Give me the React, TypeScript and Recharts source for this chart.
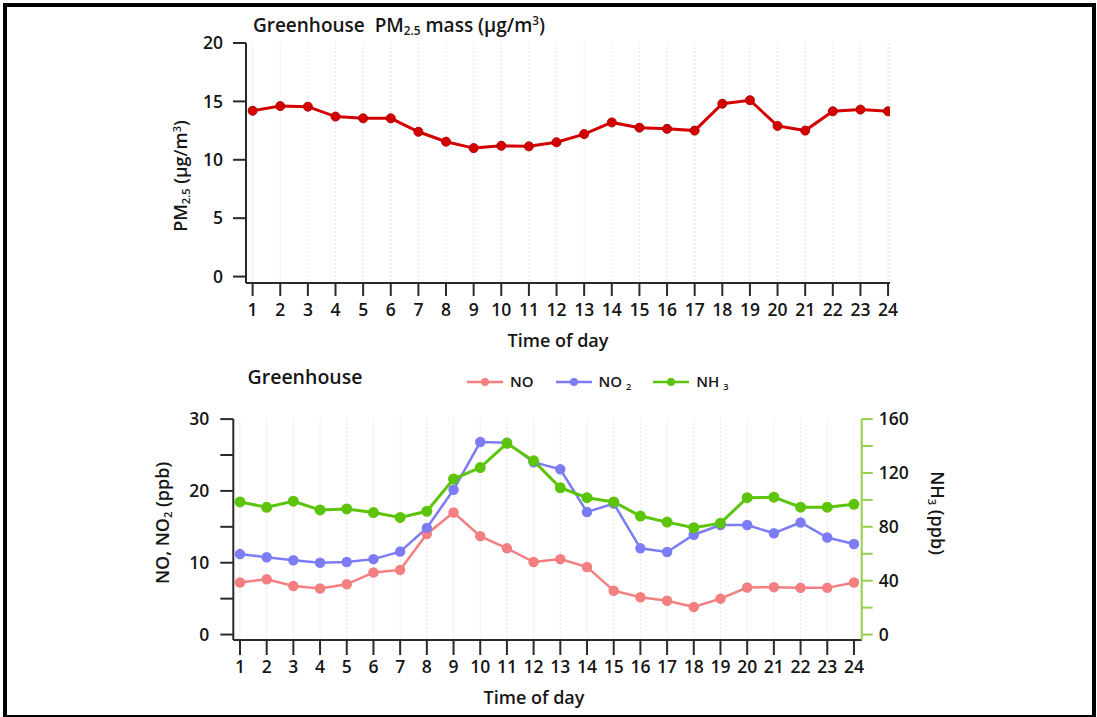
import { LineChart, Line, XAxis, YAxis, CartesianGrid, Legend } from 'recharts';
import type { CSSProperties, ReactNode } from 'react';

const hours = [1, 2, 3, 4, 5, 6, 7, 8, 9, 10, 11, 12, 13, 14, 15, 16, 17, 18, 19, 20, 21, 22, 23, 24];
const pm25 = [14.2, 14.6, 14.55, 13.7, 13.55, 13.55, 12.4, 11.55, 11.0, 11.2, 11.15, 11.5, 12.2, 13.2, 12.75, 12.65, 12.5, 14.8, 15.1, 12.9, 12.5, 14.15, 14.3, 14.15];
const noPpb = [7.25, 7.7, 6.75, 6.4, 7.0, 8.65, 9.0, 14.0, 17.0, 13.7, 12.0, 10.1, 10.5, 9.4, 6.1, 5.2, 4.7, 3.85, 5.0, 6.55, 6.6, 6.5, 6.5, 7.25];
const no2Ppb = [11.2, 10.75, 10.35, 10.0, 10.1, 10.5, 11.55, 14.85, 20.15, 26.8, 26.7, 24.0, 23.0, 17.05, 18.25, 12.0, 11.5, 13.9, 15.25, 15.25, 14.1, 15.6, 13.5, 12.6];
const nh3Ppb = [98.5, 94.5, 99.0, 92.5, 93.3, 90.6, 87.0, 91.5, 115.5, 124.0, 142.0, 129.0, 109.0, 101.6, 98.5, 88.0, 83.5, 79.3, 82.7, 101.6, 102.0, 94.6, 94.6, 96.7];
const pmTicks = [0, 5, 10, 15, 20];
const leftTicks = [0, 5, 10, 15, 20, 25, 30];
const rightTicks = [0, 20, 40, 60, 80, 100, 120, 140, 160];

const FONT = '"Open Sans", Lato, sans-serif';
const RED = '#d40000';
const PINK = '#f37f80';
const BLUE = '#7c7cf4';
const GREEN = '#5cc40a';
const AXIS_GREEN = '#96d04a';

const pmData = hours.map((h, i) => ({ hour: h, pm: pm25[i] }));
const gasData = hours.map((h, i) => ({ hour: h, no: noPpb[i], no2: no2Ppb[i], nh3: nh3Ppb[i] }));

const series = [
  { key: 'no', color: PINK, name: 'NO', sub: '' },
  { key: 'no2', color: BLUE, name: 'NO ', sub: '2' },
  { key: 'nh3', color: GREEN, name: 'NH ', sub: '3' },
];

const tickFont = { fill: '#161616', fontSize: 17.5, fontFamily: FONT, fontWeight: 600 };
const darkLine = { stroke: '#2a2a2a', strokeWidth: 2 };

function Txt({ x, y, rot = 0, size = 18, children }: { x: number; y: number; rot?: number; size?: number; children: ReactNode }) {
  const st: CSSProperties = {
    position: 'absolute', left: x, top: y, transform: `translate(-50%, -50%) rotate(${rot}deg)`,
    whiteSpace: 'nowrap', fontFamily: FONT, fontWeight: 600, fontSize: size, color: '#161616', lineHeight: 1,
  };
  return <div style={st}>{children}</div>;
}

const subSt: CSSProperties = { fontSize: '0.62em', verticalAlign: '-0.3em' };
const supSt: CSSProperties = { fontSize: '0.62em', verticalAlign: '0.55em' };

function GasLegend() {
  return (
    <div style={{ display: 'flex', gap: 22, fontFamily: FONT, fontWeight: 600, fontSize: 15, color: '#161616' }}>
      {series.map((s) => (
        <div key={s.key} style={{ display: 'flex', alignItems: 'center', gap: 7 }}>
          <svg width={36} height={12}>
            <line x1={0} y1={6} x2={36} y2={6} stroke={s.color} strokeWidth={2.5} />
            <circle cx={18} cy={6} r={4} fill={s.color} />
          </svg>
          <span>{s.name}<span style={subSt}>{s.sub}</span></span>
        </div>
      ))}
    </div>
  );
}

export default function App() {
  return (
    <div style={{ position: 'absolute', left: 0, top: 0, width: 1097, height: 717, background: '#fff' }}>
      <div style={{ position: 'absolute', left: 3, top: 3, width: 1093, height: 714, boxSizing: 'border-box',
        borderStyle: 'solid', borderColor: '#000', borderWidth: '4px 4px 2px 4px' }} />

      <div style={{ position: 'absolute', left: 0, top: 0 }}>
        <LineChart width={1097} height={360} data={pmData} margin={{ top: 43, right: 207, bottom: 37, left: 186 }}>
          <CartesianGrid vertical horizontal={false} stroke="#e6e6e6" strokeDasharray="2 2" />
          <XAxis dataKey="hour" type="number" domain={[0.76, 24.07]} ticks={hours} interval={0} allowDataOverflow
                 height={40} tick={tickFont} tickSize={13} tickMargin={8} tickLine={darkLine} axisLine={darkLine} />
          <YAxis type="number" domain={[-0.55, 20]} ticks={pmTicks} allowDataOverflow width={60}
                 tick={tickFont} tickSize={13} tickMargin={10} tickLine={darkLine} axisLine={darkLine} />
          <Line dataKey="pm" type="linear" stroke={RED} strokeWidth={3}
                dot={{ r: 4.5, fill: RED, stroke: '#b00000', strokeWidth: 1 }} isAnimationActive={false} />
        </LineChart>
      </div>

      <div style={{ position: 'absolute', left: 0, top: 360 }}>
        <LineChart width={1097} height={357} data={gasData} margin={{ top: 37.3, right: 175.3, bottom: 37, left: 173.3 }}>
          <CartesianGrid vertical horizontal={false} stroke="#e6e6e6" strokeDasharray="2 2" />
          <XAxis dataKey="hour" type="number" domain={[0.75, 24.29]} ticks={hours} interval={0} allowDataOverflow
                 height={40} tick={tickFont} tickSize={15} tickMargin={6} tickLine={darkLine} axisLine={darkLine} />
          <YAxis yAxisId="l" type="number" domain={[-0.76, 30]} ticks={leftTicks} allowDataOverflow width={60}
                 tickFormatter={(v: number) => (v % 10 === 0 ? String(v) : '')}
                 tick={tickFont} tickSize={13} tickMargin={11} tickLine={darkLine} axisLine={darkLine} />
          <YAxis yAxisId="r" orientation="right" type="number" domain={[-4.05, 160]} ticks={rightTicks} allowDataOverflow width={60}
                 tickFormatter={(v: number) => (v % 40 === 0 ? String(v) : '')}
                 tick={tickFont} tickSize={11} tickMargin={6}
                 tickLine={{ stroke: AXIS_GREEN, strokeWidth: 2 }} axisLine={{ stroke: AXIS_GREEN, strokeWidth: 2 }} />
          <Legend content={() => <GasLegend />} verticalAlign="top" align="left"
                  wrapperStyle={{ position: 'absolute', top: 11, left: 467, width: 'auto' }} />
          <Line yAxisId="l" dataKey="no" name="NO" stroke={PINK} strokeWidth={2.5}
                dot={{ r: 4, fill: PINK, stroke: PINK }} isAnimationActive={false} />
          <Line yAxisId="l" dataKey="no2" name="NO2" stroke={BLUE} strokeWidth={2.5}
                dot={{ r: 4, fill: BLUE, stroke: BLUE }} isAnimationActive={false} />
          <Line yAxisId="r" dataKey="nh3" name="NH3" stroke={GREEN} strokeWidth={3}
                dot={{ r: 4, fill: GREEN, stroke: GREEN }} isAnimationActive={false} />
        </LineChart>
      </div>

      <Txt x={399} y={26} size={19}>Greenhouse&nbsp; PM<span style={subSt}>2.5</span> mass (μg/m<span style={supSt}>3</span>)</Txt>
      <Txt x={181} y={176} rot={-90}>PM<span style={subSt}>2.5</span> (μg/m<span style={supSt}>3</span>)</Txt>
      <Txt x={558} y={340}>Time of day</Txt>

      <Txt x={305} y={377} size={19.5}>Greenhouse</Txt>
      <Txt x={163} y={523} rot={-90}>NO, NO<span style={subSt}>2</span> (ppb)</Txt>
      <Txt x={937} y={513} rot={90}>NH<span style={subSt}>3</span> (ppb)</Txt>
      <Txt x={534} y={697}>Time of day</Txt>
    </div>
  );
}
